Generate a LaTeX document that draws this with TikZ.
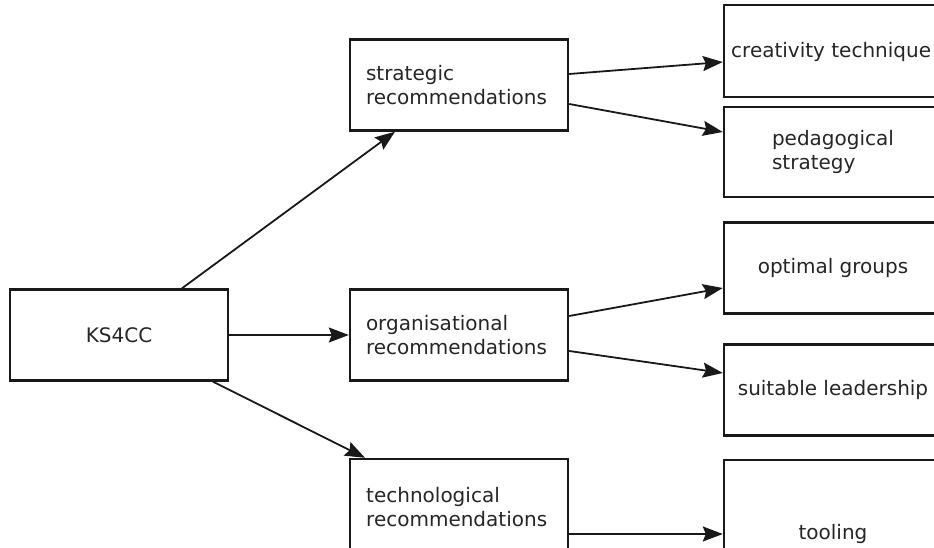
\documentclass[tikz,border=0pt]{standalone}
\usepackage{fontspec}
\setmainfont{DejaVu Sans}
\usetikzlibrary{arrows.meta}
\begin{document}
\begin{tikzpicture}[x=1pt,y=-1pt,
  box/.style={draw=black!90, line width=2.4pt, rectangle, inner sep=0pt,
    minimum width=218pt, text=black!85, font=\fontsize{20}{24}\selectfont},
  lbox/.style={box, align=left, text width=186pt, inner xsep=16pt},
  cbox/.style={box, align=left},
  txt/.style={text=black!85, font=\fontsize{20}{24}\selectfont, inner sep=0pt},
  conn/.style={draw=black!90, line width=1.8pt, -{Stealth[length=20pt,width=15pt,inset=3pt]}}]
\useasboundingbox (0,0) rectangle (934,548);
\clip (0,0) rectangle (934,548);
\fill[white] (0,0) rectangle (934,548);

% left column
\node[cbox, minimum height=91pt] (ks) at (119,335) {KS4CC};

% middle column
\node[lbox, minimum height=91pt] (strat) at (459,85) {strategic\\recommendations};
\node[lbox, minimum height=91pt] (org) at (459,335) {organisational\\recommendations};
\node[box, minimum height=91pt] (tech) at (459,504.5) {};
\node[txt, anchor=west, align=left] (techtxt) at (366,507) {technological\\recommendations};

% right column
\node[box, minimum height=92pt] (creat) at (833,51) {};
\node[txt, anchor=west] (creattxt) at (731,52) {creativity technique};
\node[cbox, minimum height=90pt] (ped) at (833,152) {pedagogical\\strategy};
\node[cbox, minimum height=91pt] (opt) at (833,268) {optimal groups};
\node[cbox, minimum height=91pt] (suit) at (833,390) {suitable leadership};
\node[cbox, minimum height=148pt] (tool) at (833,534) {tooling};

% connectors
\draw[conn] ([xshift=63pt]ks.north) -- ([xshift=-64pt]strat.south);
\draw[conn] (ks.east) -- (org.west);
\draw[conn] ([xshift=94pt]ks.south) -- ([xshift=-94pt]tech.north);

\draw[conn] ([yshift=11pt]strat.east) -- ([yshift=-11pt]creat.west);
\draw[conn] ([yshift=-19pt]strat.east) -- ([yshift=20pt]ped.west);
\draw[conn] ([yshift=19pt]org.east) -- ([yshift=-20pt]opt.west);
\draw[conn] ([yshift=-16pt]org.east) -- ([yshift=17pt]suit.west);
\draw[conn] (tech.east |- tool.west) -- (tool.west);
\end{tikzpicture}
\end{document}
